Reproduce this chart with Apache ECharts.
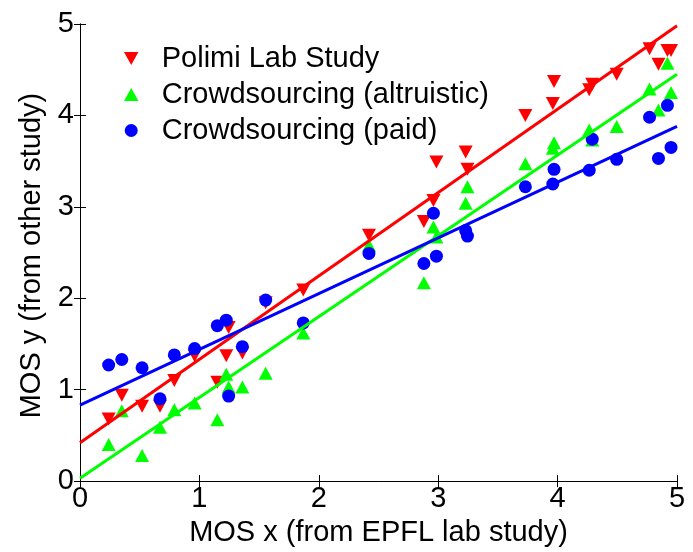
<!DOCTYPE html>
<html>
<head>
<meta charset="utf-8">
<script src="https://cdn.jsdelivr.net/npm/echarts@6/dist/echarts.min.js"></script>
<style>
html,body{margin:0;padding:0;background:#fff;}
#c{width:693px;height:552px;}
</style>
</head>
<body>
<div id="c"></div>
<script>
// x values (MOS from EPFL lab study)
const xVals = [0.24, 0.35, 0.52, 0.67, 0.79, 0.96, 1.15, 1.225, 1.245, 1.36, 1.555, 1.87, 2.42, 2.88, 2.96, 2.985, 3.23, 3.245, 3.73, 3.96, 3.97, 4.265, 4.29, 4.495, 4.77, 4.845, 4.92, 4.95];
const polimi = [0.68, 0.94, 0.82, 0.82, 1.10, 1.37, 1.08, 1.37, 1.68, 1.40, 1.95, 2.09, 2.69, 2.84, 3.07, 3.49, 3.60, 3.41, 4.00, 4.13, 4.37, 4.28, 4.34, 4.45, 4.73, 4.56, 4.71, 4.71];
const altruistic = [0.40, 0.77, 0.28, 0.59, 0.78, 0.855, 0.67, 1.17, 1.03, 1.03, 1.18, 1.62, 2.58, 2.17, 2.78, 2.67, 3.04, 3.22, 3.47, 3.64, 3.70, 3.84, 3.73, 3.88, 4.29, 4.06, 4.57, 4.25];
const paid = [1.27, 1.33, 1.24, 0.90, 1.38, 1.45, 1.70, 1.76, 0.93, 1.47, 1.98, 1.73, 2.49, 2.38, 2.93, 2.46, 2.74, 2.68, 3.22, 3.25, 3.41, 3.40, 3.74, 3.52, 3.98, 3.53, 4.11, 3.65];
// fitted lines: y at x = 0 and x = 5
const fitX = [0, 5];
const fitPolimi = [0.42, 4.98];
const fitAltruistic = [0.03, 4.45];
const fitPaid = [0.83, 3.88];
const seriesNames = ['Polimi Lab Study', 'Crowdsourcing (altruistic)', 'Crowdsourcing (paid)'];
const xTicks = [0, 1, 2, 3, 4, 5];
const yTicks = [0, 1, 2, 3, 4, 5];

const RED = '#ff0000', GREEN = '#00ff00', BLUE = '#0000ff';
const downTri = 'path://M0,0 L10,0 L5,9 Z';
const upTri = 'path://M5,0 L10,9 L0,9 Z';
const FONT = 'Liberation Sans, Arial, sans-serif';
const FS = 29;

const pairs = (xs, ys) => xs.map((x, i) => [x, ys[i]]);

const chart = echarts.init(document.getElementById('c'), null, {renderer: 'canvas'});
const axisCommon = {
  type: 'value', min: 0, max: 5, interval: 1,
  axisLine: {show: true, lineStyle: {color: '#000', width: 1}},
  axisTick: {show: true, inside: true, length: 6, lineStyle: {color: '#000'}},
  splitLine: {show: false}
};
chart.setOption({
  animation: false,
  backgroundColor: '#fff',
  grid: {left: 80, right: 16, top: 24, bottom: 70, containLabel: false},
  legend: {
    orient: 'vertical', left: 119, top: 39, itemGap: 7,
    itemWidth: 15, itemHeight: 13,
    textStyle: {fontFamily: FONT, fontSize: FS, color: '#000', padding: [0, 0, 0, 18]},
    data: [
      {name: seriesNames[0], icon: downTri},
      {name: seriesNames[1], icon: upTri},
      {name: seriesNames[2], icon: 'circle'}
    ]
  },
  xAxis: [
    Object.assign({}, axisCommon, {
      position: 'bottom',
      name: 'MOS x (from EPFL lab study)', nameLocation: 'middle', nameGap: 33,
      nameTextStyle: {fontFamily: FONT, fontSize: FS, color: '#000'},
      axisLabel: {fontFamily: FONT, fontSize: FS, color: '#000', margin: 3,
        formatter: v => xTicks.includes(v) ? String(v) : ''}
    }),
    Object.assign({}, axisCommon, {position: 'top', axisLabel: {show: false}})
  ],
  yAxis: [
    Object.assign({}, axisCommon, {
      position: 'left',
      name: 'MOS y (from other study)', nameLocation: 'middle', nameGap: 27,
      nameTextStyle: {fontFamily: FONT, fontSize: FS, color: '#000', padding: [0, 6, 0, 0]},
      axisLabel: {fontFamily: FONT, fontSize: FS, color: '#000', margin: 6,
        formatter: v => yTicks.includes(v) ? String(v) : ''}
    }),
    Object.assign({}, axisCommon, {position: 'right', axisLabel: {show: false}})
  ],
  series: [
    {name: seriesNames[0], type: 'scatter', symbol: downTri, symbolSize: [14, 13],
      itemStyle: {color: RED, opacity: 1}, data: pairs(xVals, polimi), z: 2},
    {name: seriesNames[1], type: 'scatter', symbol: upTri, symbolSize: [14, 13],
      itemStyle: {color: GREEN, opacity: 1}, data: pairs(xVals, altruistic), z: 3},
    {name: seriesNames[2], type: 'scatter', symbol: 'circle', symbolSize: 13,
      itemStyle: {color: BLUE, opacity: 1}, data: pairs(xVals, paid), z: 4},
    {type: 'line', showSymbol: false, symbol: 'none', lineStyle: {color: RED, width: 3},
      data: pairs(fitX, fitPolimi), z: 5, silent: true},
    {type: 'line', showSymbol: false, symbol: 'none', lineStyle: {color: GREEN, width: 3},
      data: pairs(fitX, fitAltruistic), z: 5, silent: true},
    {type: 'line', showSymbol: false, symbol: 'none', lineStyle: {color: BLUE, width: 3},
      data: pairs(fitX, fitPaid), z: 5, silent: true}
  ]
});
</script>
</body>
</html>
